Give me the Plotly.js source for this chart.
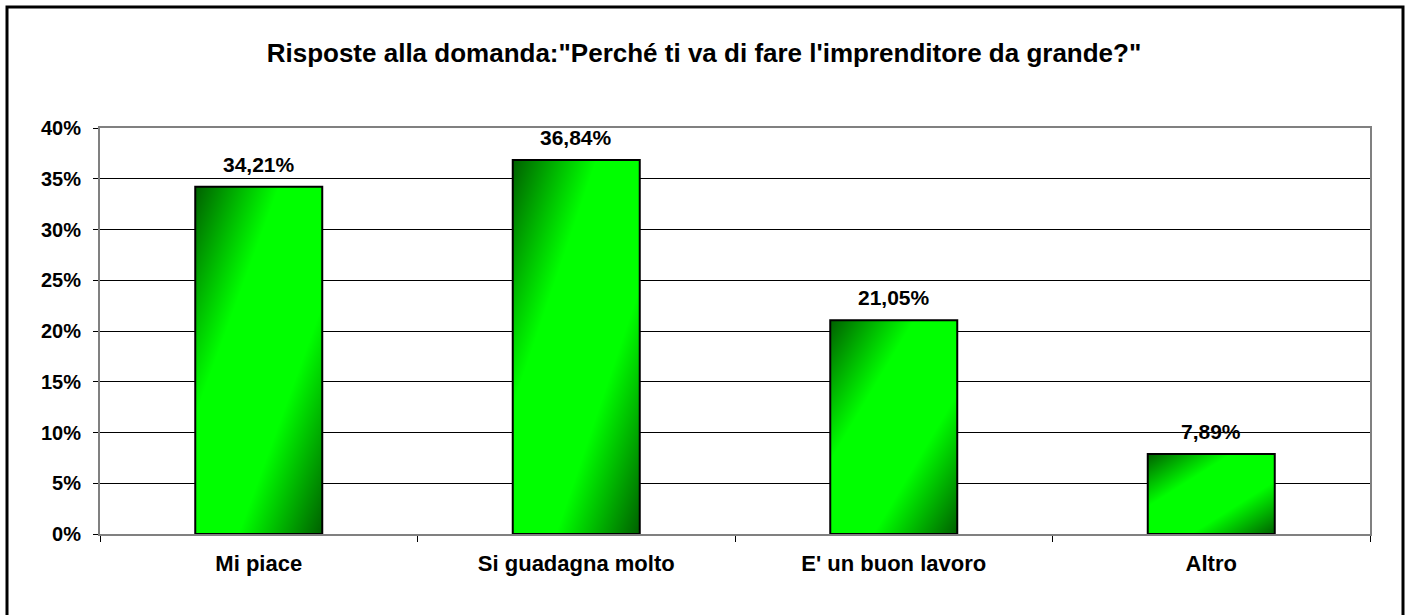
<!DOCTYPE html>
<html>
<head>
<meta charset="utf-8">
<script src="https://cdn.plot.ly/plotly-3.0.1.min.js"></script>
<style>
  html, body { margin: 0; padding: 0; background: #ffffff; }
  #chart { width: 1408px; height: 615px; }
</style>
</head>
<body>
<div id="chart"></div>
<script>
// ---- Data ----
const categories = ["Mi piace", "Si guadagna molto", "E' un buon lavoro", "Altro"];
const values = [34.21, 36.84, 21.05, 7.89];
const yTickValues = [0, 5, 10, 15, 20, 25, 30, 35, 40];
const yTickLabels = ["0%", "5%", "10%", "15%", "20%", "25%", "30%", "35%", "40%"];
const chartTitle = 'Risposte alla domanda:"Perché ti va di fare l\'imprenditore da grande?"';

const valueLabels = values.map(v => v.toFixed(2).replace('.', ',') + '%');

const FONT = '"Liberation Sans", Arial, sans-serif';

const trace = {
  type: 'bar',
  x: categories,
  y: values,
  marker: { color: '#00ff00', line: { color: '#000000', width: 2 } },
  hoverinfo: 'none'
};

const annotations = categories.map((c, i) => ({
  x: c, y: values[i], xref: 'x', yref: 'y',
  text: valueLabels[i], showarrow: false,
  yanchor: 'bottom', yshift: 9,
  font: { family: FONT, size: 21, color: '#000000', weight: 'bold' }
}));

const layout = {
  width: 1408, height: 615,
  margin: { l: 100, r: 38, t: 128, b: 81 },
  paper_bgcolor: '#ffffff', plot_bgcolor: '#ffffff',
  showlegend: false,
  bargap: 0.6,
  title: {
    text: chartTitle,
    font: { family: FONT, size: 26, color: '#000000', weight: 'bold' },
    xref: 'container', x: 0.5, xanchor: 'center',
    yref: 'container', y: 1 - 53 / 615, yanchor: 'middle'
  },
  xaxis: {
    type: 'category',
    showgrid: false, zeroline: false,
    showline: true, linecolor: '#808080', linewidth: 2, mirror: true,
    ticks: 'outside', ticklen: 6, tickwidth: 1, tickcolor: '#000000',
    tickson: 'boundaries',
    ticklabelstandoff: 9,
    tickfont: { family: FONT, size: 22, color: '#000000', weight: 'bold' }
  },
  yaxis: {
    range: [0, 40],
    tickvals: yTickValues, ticktext: yTickLabels,
    showgrid: true, gridcolor: '#000000', gridwidth: 1,
    zeroline: false,
    showline: true, linecolor: '#808080', linewidth: 2, mirror: true,
    ticks: 'outside', ticklen: 5, tickwidth: 1, tickcolor: '#000000',
    ticklabelstandoff: 8,
    tickfont: { family: FONT, size: 20, color: '#000000', weight: 'bold' }
  },
  annotations: annotations,
  shapes: [{
    type: 'rect', xref: 'paper', yref: 'paper', layer: 'above',
    x0: (7 - 100) / 1270, x1: (1403 - 100) / 1270,
    y0: (534 - 640) / 406, y1: (534 - 7) / 406,
    line: { color: '#000000', width: 3 }, fillcolor: 'rgba(0,0,0,0)'
  }]
};

Plotly.newPlot('chart', [trace], layout, { staticPlot: true, displayModeBar: false }).then(gd => {
  const svg = gd.querySelector('svg.main-svg');
  const ns = 'http://www.w3.org/2000/svg';
  let defs = svg.querySelector('defs');
  if (!defs) { defs = document.createElementNS(ns, 'defs'); svg.insertBefore(defs, svg.firstChild); }
  const grad = document.createElementNS(ns, 'linearGradient');
  grad.setAttribute('id', 'barGrad');
  grad.setAttribute('x1', '0'); grad.setAttribute('y1', '0');
  grad.setAttribute('x2', '1'); grad.setAttribute('y2', '1');
  [[0, '#006000'], [0.33, '#00ff00'], [0.67, '#00ff00'], [1, '#006000']].forEach(([o, c]) => {
    const s = document.createElementNS(ns, 'stop');
    s.setAttribute('offset', o); s.setAttribute('stop-color', c);
    grad.appendChild(s);
  });
  defs.appendChild(grad);
  gd.querySelectorAll('.bars .point path').forEach(p => { p.style.fill = 'url(#barGrad)'; });
});
</script>
</body>
</html>
